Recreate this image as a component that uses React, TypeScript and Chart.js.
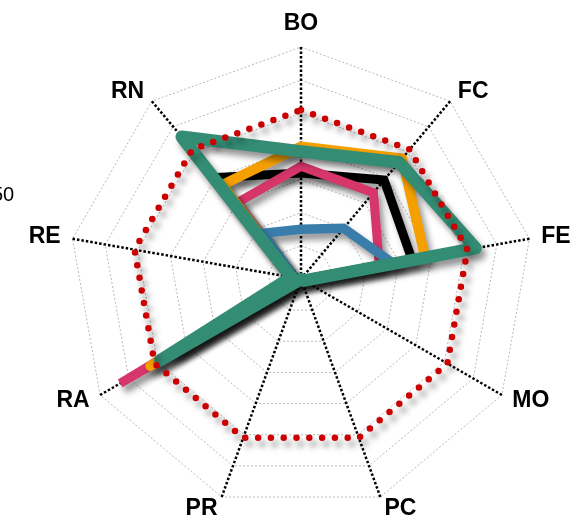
import React, { useEffect, useRef } from 'react';
import { Chart, registerables } from 'chart.js';

Chart.register(...registerables);

// ---- data ----
const categories = ['BO', 'FC', 'FE', 'MO', 'PC', 'PR', 'RA', 'RE', 'RN'];
const greenValues = [38.5, 46, 53.5, 1, 0, 0, 49, 3, 56];
const orangeValues = [40, 47.5, 38, 0.5, 0, 0, 52.5, 2.5, 37];
const blackValues = [32, 39, 34, 0.5, 0, 0, 46, 2, 40];
const pinkValues = [34, 34, 24, 0.5, 0, 0, 63, 2, 30];
const blueValues = [15, 20, 28, 0.5, 0, 0, 44, 2, 18];
const targetValues = [51, 51, 51, 51, 51, 51, 51, 51, 51];
const scaleMin = 0;
const scaleMax = 70;
const scaleStep = 10;
const sideNote = '50';

const shadowPlugin = {
  id: 'lineShadow',
  beforeDatasetDraw(chart: any) {
    const ctx = chart.ctx;
    ctx.save();
    ctx.shadowColor = 'rgba(0,0,0,0.42)';
    ctx.shadowBlur = 6;
    ctx.shadowOffsetX = 4;
    ctx.shadowOffsetY = 6;
  },
  afterDatasetDraw(chart: any) {
    chart.ctx.restore();
  },
};

const outerLabelPlugin = {
  id: 'outerLabels',
  afterDraw(chart: any) {
    const scale = chart.scales.r;
    const ctx = chart.ctx;
    const labels = chart.data.labels as string[];
    ctx.save();
    ctx.font = 'bold 23px "Liberation Sans", Arial, sans-serif';
    ctx.fillStyle = '#000';
    for (let i = 0; i < labels.length; i++) {
      const pos = scale.getPointPosition(i, scale.drawingArea + 12);
      const a = scale.getIndexAngle(i);
      const s = Math.sin(a);
      const c = Math.cos(a);
      ctx.textAlign = Math.abs(s) < 1e-3 ? 'center' : s > 0 ? 'left' : 'right';
      ctx.textBaseline = Math.abs(s) < 1e-3 && c > 0 ? 'bottom' : 'middle';
      ctx.fillText(labels[i], pos.x, pos.y);
    }
    ctx.restore();
  },
};

function line(values: number[], color: string, width: number, join: string) {
  return {
    data: values,
    borderColor: color,
    backgroundColor: 'transparent',
    borderWidth: width,
    borderJoinStyle: join,
    borderCapStyle: join === 'round' ? 'round' : 'butt',
    fill: false,
    pointRadius: 0,
    pointHoverRadius: 0,
    clip: false,
  };
}

export default function App() {
  const ref = useRef<HTMLCanvasElement>(null);

  useEffect(() => {
    if (!ref.current) return;
    const chart = new Chart(ref.current, {
      type: 'radar',
      data: {
        labels: categories,
        datasets: [
          {
            data: targetValues,
            borderColor: '#cc0000',
            backgroundColor: 'transparent',
            borderWidth: 6.5,
            borderDash: [0, 12.8],
            borderCapStyle: 'round',
            borderJoinStyle: 'round',
            fill: false,
            pointRadius: 0,
            pointHoverRadius: 0,
            clip: false,
          } as any,
          line(greenValues, '#338c74', 12.5, 'round') as any,
          line(blueValues, '#3a7daa', 9.5, 'miter') as any,
          line(orangeValues, '#f5a000', 10, 'round') as any,
          line(pinkValues, '#d6366a', 9, 'miter') as any,
          line(blackValues, '#000000', 9, 'miter') as any,
        ],
      },
      options: {
        responsive: false,
        animation: false,
        devicePixelRatio: 1,
        layout: { padding: { left: 69, top: 47, right: 52, bottom: 6 } },
        elements: { line: { tension: 0 }, point: { radius: 0 } },
        plugins: {
          legend: { display: false },
          tooltip: { enabled: false },
          title: { display: false },
        },
        scales: {
          r: {
            min: scaleMin,
            max: scaleMax,
            ticks: { display: false, stepSize: scaleStep },
            pointLabels: { display: false },
            grid: { color: '#b8b8b8', lineWidth: 1, circular: false, borderDash: [2, 2] } as any,
            border: { dash: [2, 2] } as any,
            angleLines: { color: '#000000', lineWidth: 2.5, borderDash: [2.5, 2] },
          },
        },
      } as any,
      plugins: [shadowPlugin, outerLabelPlugin],
    });
    return () => chart.destroy();
  }, []);

  return (
    <div
      style={{
        position: 'fixed',
        left: 0,
        top: 0,
        width: 585,
        height: 517,
        overflow: 'hidden',
        background: '#fff',
      }}
    >
      <canvas ref={ref} width={585} height={517} style={{ display: 'block' }} />
      <span
        style={{
          position: 'absolute',
          left: -8,
          top: 184,
          font: '20px "Liberation Sans", Arial, sans-serif',
          lineHeight: '20px',
          color: '#000',
          whiteSpace: 'nowrap',
        }}
      >
        {sideNote}
      </span>
    </div>
  );
}
